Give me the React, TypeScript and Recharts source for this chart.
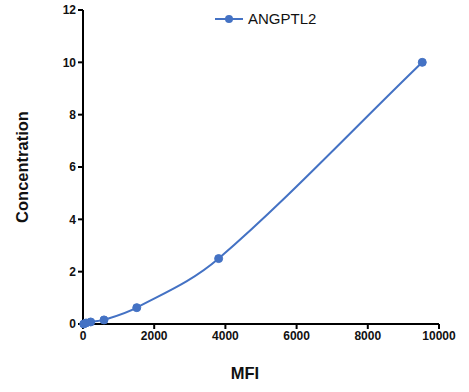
import React from 'react';
import { LineChart, Line, XAxis, YAxis } from 'recharts';

const mfi = [20, 85, 216, 590, 1510, 3810, 9530];
const concentration = [0, 0.039, 0.078, 0.156, 0.625, 2.5, 10];
const xTicks = [0, 2000, 4000, 6000, 8000, 10000];
const yTicks = [0, 2, 4, 6, 8, 10, 12];
const seriesName = 'ANGPTL2';

const data = mfi.map((m, i) => ({ mfi: m, conc: concentration[i] }));

const COLOR = '#4472C4';
const FONT = 'Arial, "Liberation Sans", sans-serif';

// Smooth Hermite curve with centred-difference tangents (like a fitted standard curve)
class SmoothCurve {
  _context: any;
  _xs: number[] = [];
  _ys: number[] = [];
  constructor(context: any) {
    this._context = context;
  }
  areaStart() {}
  areaEnd() {}
  lineStart() {
    this._xs = [];
    this._ys = [];
  }
  point(x: number, y: number) {
    this._xs.push(+x);
    this._ys.push(+y);
  }
  lineEnd() {
    const xs = this._xs;
    const ys = this._ys;
    const n = xs.length;
    if (n === 0) return;
    const ctx = this._context;
    ctx.moveTo(xs[0], ys[0]);
    if (n === 1) return;
    const m: number[] = [];
    for (let i = 0; i < n; i++) {
      if (i === 0) m.push((ys[1] - ys[0]) / (xs[1] - xs[0] || 1));
      else if (i === n - 1) m.push((ys[n - 1] - ys[n - 2]) / (xs[n - 1] - xs[n - 2] || 1));
      else m.push((ys[i + 1] - ys[i - 1]) / (xs[i + 1] - xs[i - 1] || 1));
    }
    for (let i = 0; i < n - 1; i++) {
      const h = xs[i + 1] - xs[i];
      ctx.bezierCurveTo(
        xs[i] + h / 3,
        ys[i] + (m[i] * h) / 3,
        xs[i + 1] - h / 3,
        ys[i + 1] - (m[i + 1] * h) / 3,
        xs[i + 1],
        ys[i + 1]
      );
    }
  }
}
const smoothCurve: any = (context: any) => new SmoothCurve(context);

const LegendContent = () => (
  <svg width={160} height={24} style={{ overflow: 'visible', display: 'block' }}>
    <line x1={2} y1={12} x2={30} y2={12} stroke={COLOR} strokeWidth={2} />
    <circle cx={16} cy={12} r={4} fill={COLOR} />
    <text x={35} y={17} fontFamily={FONT} fontSize={15} fill="#111">{seriesName}</text>
  </svg>
);

export default function App() {
  return (
    <div style={{ position: 'absolute', left: 0, top: 0, width: 469, height: 392, background: '#fff' }}>
      <LineChart width={469} height={392} data={data} margin={{ top: 10, right: 30, left: 0, bottom: 0 }}>
        <XAxis
          dataKey="mfi"
          type="number"
          domain={[0, 10000]}
          ticks={xTicks}
          height={68}
          axisLine={{ stroke: '#000', strokeWidth: 2 }}
          tickLine={{ stroke: '#000', strokeWidth: 2 }}
          tickSize={5}
          tick={{ fill: '#111', fontSize: 12, fontWeight: 'bold', fontFamily: FONT }}
          label={(props: any) => (
            <text x={245} y={379} textAnchor="middle" fontFamily={FONT} fontSize={16.5} fontWeight="bold" fill="#111">MFI</text>
          )}
        />
        <YAxis
          dataKey="conc"
          type="number"
          domain={[0, 12]}
          ticks={yTicks}
          width={83}
          axisLine={{ stroke: '#000', strokeWidth: 2 }}
          tickLine={{ stroke: '#000', strokeWidth: 2 }}
          tickSize={5}
          tick={{ fill: '#111', fontSize: 12, fontWeight: 'bold', fontFamily: FONT }}
          label={(props: any) => (
            <text x={28} y={167} textAnchor="middle" transform="rotate(-90 28 167)" fontFamily={FONT} fontSize={16.5} fontWeight="bold" fill="#111">Concentration</text>
          )}
        />
        <Line
          type={smoothCurve}
          dataKey="conc"
          name={seriesName}
          stroke={COLOR}
          strokeWidth={2}
          dot={{ r: 4, fill: COLOR, stroke: COLOR, strokeWidth: 1 }}
          isAnimationActive={false}
        />
      </LineChart>
      <div style={{ position: 'absolute', left: 213, top: 7 }}>
        <LegendContent />
      </div>
    </div>
  );
}
